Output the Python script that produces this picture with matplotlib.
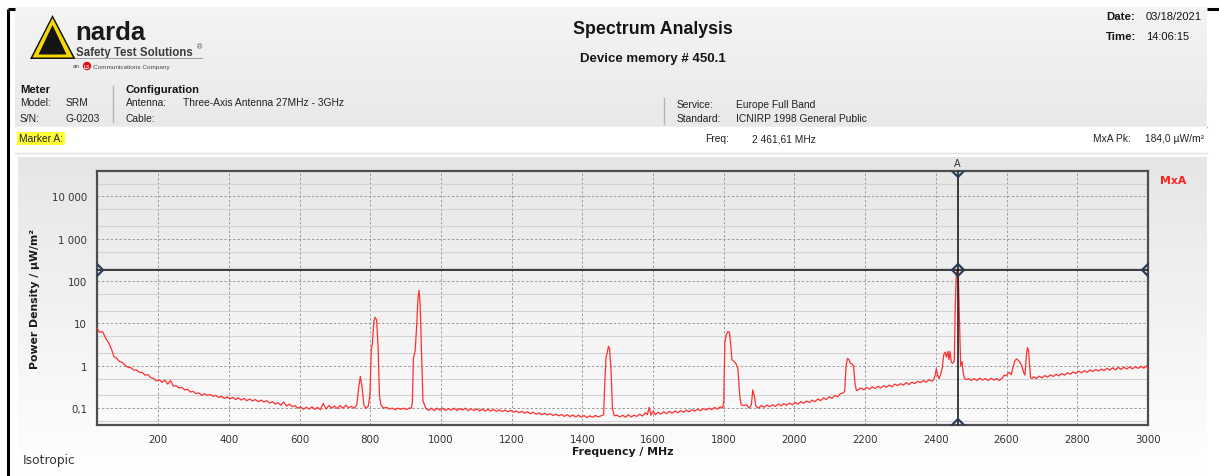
import numpy as np
import matplotlib
matplotlib.use("Agg")
import matplotlib.pyplot as plt
from matplotlib.patches import Polygon, Rectangle, Circle
from matplotlib.colors import LinearSegmentedColormap
from matplotlib.ticker import FixedLocator, FuncFormatter, LogLocator, NullFormatter

# ---------------- data ----------------
# MxA trace, split in bands: frequency (MHz) and power density (µW/m²)
f_low = [27, 35, 43, 51, 59, 67, 75, 83, 91, 99,
         107, 115, 123, 131, 139, 147, 155, 163, 171, 179,
         187, 195, 203, 211, 219, 227, 235, 243, 251, 259,
         267, 275, 283, 291, 299, 307, 315, 323, 331, 339,
         347, 355, 363, 371, 379, 387, 395, 403, 411, 419,
         427, 435, 443, 451, 459, 467, 475, 483, 491, 499,
         507, 515, 523, 531, 539, 547, 555, 563, 571, 579,
         587, 595, 603, 611, 619, 627, 635, 643, 651, 659,
         667, 675, 683, 691, 699, 707, 715, 723, 731, 739]
p_low = [7.6, 6.2, 6.4, 4.6, 3.6, 2.6, 1.65, 1.5, 1.25, 1.2,
         1.02, 0.92, 0.9, 0.8, 0.8, 0.7, 0.7, 0.6, 0.62, 0.53,
         0.5, 0.44, 0.47, 0.41, 0.46, 0.37, 0.45, 0.33, 0.34, 0.3,
         0.31, 0.27, 0.28, 0.24, 0.25, 0.22, 0.23, 0.2, 0.22, 0.2,
         0.21, 0.19, 0.2, 0.18, 0.19, 0.17, 0.185, 0.165, 0.18, 0.16,
         0.175, 0.155, 0.17, 0.15, 0.165, 0.148, 0.16, 0.142, 0.155, 0.14,
         0.15, 0.132, 0.142, 0.125, 0.135, 0.118, 0.14, 0.112, 0.125, 0.108,
         0.115, 0.1, 0.108, 0.094, 0.105, 0.095, 0.108, 0.094, 0.104, 0.092,
         0.13, 0.095, 0.115, 0.1, 0.112, 0.098, 0.115, 0.1, 0.118, 0.102]

f_gsm = [747, 755, 762, 767, 772, 777, 782, 788, 794, 799,
         803, 806, 810, 814, 818, 822, 826, 830, 838, 846,
         854, 862, 870, 878, 886, 894, 902, 910, 916, 919,
         922, 927, 931, 935, 938, 941, 945, 949, 957, 965]
p_gsm = [0.11, 0.1, 0.12, 0.3, 0.56, 0.3, 0.12, 0.1, 0.11, 0.2,
         2.5, 3.3, 11.0, 14.0, 12.0, 3.0, 0.2, 0.12, 0.1, 0.105,
         0.095, 0.1, 0.092, 0.1, 0.094, 0.1, 0.093, 0.1, 0.1, 0.13,
         1.5, 2.3, 8.0, 40.0, 60.0, 30.0, 2.0, 0.15, 0.1, 0.088]

f_mid = [973, 981, 989, 997, 1005, 1013, 1021, 1029, 1037, 1045,
         1053, 1061, 1069, 1077, 1085, 1093, 1101, 1109, 1117, 1125,
         1133, 1141, 1149, 1157, 1165, 1173, 1181, 1189, 1197, 1205,
         1213, 1221, 1229, 1237, 1245, 1253, 1261, 1269, 1277, 1285,
         1293, 1301, 1309, 1317, 1325, 1333, 1341, 1349, 1357, 1365,
         1373, 1381, 1389, 1397, 1405, 1413, 1421, 1429, 1437, 1445, 1453, 1460]
p_mid = [0.1, 0.088, 0.1, 0.09, 0.1, 0.088, 0.098, 0.09, 0.1, 0.088,
         0.098, 0.09, 0.1, 0.087, 0.097, 0.088, 0.096, 0.086, 0.095, 0.085,
         0.094, 0.085, 0.093, 0.084, 0.092, 0.083, 0.09, 0.082, 0.089, 0.08,
         0.086, 0.078, 0.084, 0.076, 0.082, 0.074, 0.08, 0.072, 0.078, 0.07,
         0.076, 0.069, 0.074, 0.067, 0.072, 0.066, 0.071, 0.064, 0.07, 0.063,
         0.069, 0.062, 0.068, 0.061, 0.067, 0.06, 0.066, 0.061, 0.067, 0.062, 0.066, 0.07]

f_b3 = [1464, 1467, 1470, 1474, 1477, 1481, 1485, 1490, 1498, 1506,
        1514, 1522, 1530, 1538, 1546, 1554, 1562, 1570, 1578, 1584,
        1589, 1594, 1600, 1606, 1614, 1622, 1630, 1638, 1646, 1654,
        1662, 1670, 1678, 1686, 1694, 1702, 1710, 1718, 1726, 1734,
        1742, 1750, 1758, 1766, 1774, 1782, 1790, 1797]
p_b3 = [0.5, 1.6, 2.0, 2.9, 2.5, 0.8, 0.1, 0.066, 0.068, 0.062,
        0.068, 0.061, 0.07, 0.062, 0.068, 0.064, 0.072, 0.065, 0.078, 0.07,
        0.105, 0.068, 0.085, 0.07, 0.08, 0.072, 0.082, 0.074, 0.084, 0.076,
        0.086, 0.078, 0.088, 0.08, 0.09, 0.082, 0.092, 0.085, 0.095, 0.087,
        0.098, 0.09, 0.1, 0.092, 0.104, 0.095, 0.108, 0.1]

f_dcs = [1800, 1803, 1807, 1812, 1816, 1820, 1823, 1828, 1835, 1840,
         1845, 1849, 1856, 1864, 1872, 1878, 1882, 1886, 1891, 1898]
p_dcs = [0.15, 3.5, 5.5, 6.4, 6.2, 3.0, 1.4, 1.3, 1.1, 0.85,
         0.2, 0.12, 0.115, 0.12, 0.1, 0.12, 0.27, 0.2, 0.11, 0.1]

f_umts = [1906, 1914, 1922, 1930, 1938, 1946, 1954, 1962, 1970, 1978,
          1986, 1994, 2002, 2010, 2018, 2026, 2034, 2042, 2050, 2058,
          2066, 2074, 2082, 2090, 2098, 2106, 2114, 2122, 2130, 2138,
          2142, 2146, 2150, 2154, 2158, 2163, 2167, 2171, 2175]
p_umts = [0.115, 0.105, 0.118, 0.108, 0.12, 0.11, 0.125, 0.113, 0.128, 0.117,
          0.132, 0.12, 0.137, 0.125, 0.142, 0.13, 0.148, 0.136, 0.155, 0.142,
          0.165, 0.15, 0.175, 0.16, 0.185, 0.17, 0.2, 0.185, 0.22, 0.23,
          0.25, 1.0, 1.5, 1.4, 1.15, 1.1, 1.0, 0.4, 0.26]

f_wifi = [2180, 2188, 2196, 2204, 2212, 2220, 2228, 2236, 2244, 2252,
          2260, 2268, 2276, 2284, 2292, 2300, 2308, 2316, 2324, 2332,
          2340, 2348, 2356, 2364, 2372, 2380, 2388, 2394, 2398, 2401,
          2405, 2409, 2414, 2418, 2422, 2426, 2430, 2434, 2437, 2440,
          2444, 2448, 2452, 2455, 2458, 2461.6, 2464, 2467, 2470, 2474,
          2477, 2481, 2486]
p_wifi = [0.27, 0.3, 0.27, 0.31, 0.28, 0.32, 0.29, 0.33, 0.3, 0.34,
          0.31, 0.35, 0.32, 0.37, 0.34, 0.38, 0.35, 0.4, 0.36, 0.41,
          0.38, 0.43, 0.4, 0.45, 0.41, 0.47, 0.43, 0.48, 0.6, 0.85,
          0.6, 0.5, 0.65, 0.9, 1.8, 2.1, 1.6, 2.2, 1.4, 2.2,
          1.2, 1.15, 1.3, 30.0, 160.0, 184.0, 90.0, 10.0, 1.0, 1.25,
          0.7, 0.5, 0.47]

f_lte = [2492, 2500, 2508, 2516, 2524, 2532, 2540, 2548, 2556, 2564,
         2572, 2580, 2588, 2593, 2598, 2603, 2608, 2613, 2618, 2623,
         2628, 2633, 2638, 2643, 2648, 2652, 2656, 2659, 2662, 2665,
         2668, 2672]
p_lte = [0.5, 0.45, 0.5, 0.45, 0.51, 0.46, 0.5, 0.45, 0.51, 0.46,
         0.5, 0.45, 0.52, 0.6, 0.58, 0.65, 0.7, 0.62, 0.9, 1.3,
         1.45, 1.35, 1.2, 1.0, 0.7, 0.6, 1.8, 2.7, 2.3, 1.0,
         0.52, 0.5]

f_high = [2676, 2684, 2692, 2700, 2708, 2716, 2724, 2732, 2740, 2748,
          2756, 2764, 2772, 2780, 2788, 2796, 2804, 2812, 2820, 2828,
          2836, 2844, 2852, 2860, 2868, 2876, 2884, 2892, 2900, 2908,
          2916, 2924, 2932, 2940, 2948, 2956, 2964, 2972, 2980, 2988,
          2996, 3000]
p_high = [0.55, 0.5, 0.57, 0.52, 0.59, 0.54, 0.61, 0.56, 0.63, 0.58,
          0.66, 0.6, 0.69, 0.63, 0.72, 0.66, 0.75, 0.68, 0.77, 0.7,
          0.8, 0.73, 0.82, 0.75, 0.84, 0.77, 0.87, 0.79, 0.9, 0.8,
          0.92, 0.82, 0.93, 0.84, 0.94, 0.85, 0.95, 0.87, 0.97, 0.88,
          1.0, 0.8]

marker_freq = 2461.61      # MHz
marker_value = 184.0       # µW/m²
freq_range = (27, 3000)
pd_range = (0.04, 40000)
x_ticks = [200, 400, 600, 800, 1000, 1200, 1400, 1600, 1800, 2000,
           2200, 2400, 2600, 2800, 3000]
y_ticks = [0.1, 1, 10, 100, 1000, 10000]

meter_info = [("Model:", "SRM"), ("S/N:", "G-0203")]
config_info = [("Antenna:", "Three-Axis Antenna 27MHz - 3GHz"), ("Cable:", "")]
service_info = [("Service:", "Europe Full Band"), ("Standard:", "ICNIRP 1998 General Public")]
date_info = [("Date:", "03/18/2021"), ("Time:", "14:06:15")]

freq = np.concatenate([f_low, f_gsm, f_mid, f_b3, f_dcs, f_umts, f_wifi, f_lte, f_high])
power = np.concatenate([p_low, p_gsm, p_mid, p_b3, p_dcs, p_umts, p_wifi, p_lte, p_high])

# ---------------- figure ----------------
W, H = 1219, 477
fig = plt.figure(figsize=(W / 100, H / 100), dpi=100)
fig.patch.set_facecolor("white")

bg = fig.add_axes([0, 0, 1, 1], zorder=0)
bg.axis("off")
SANS = "Liberation Sans"
VER = "DejaVu Sans"


def vgrad(x0, x1, y0, y1, c_top, c_bot):
    cmap = LinearSegmentedColormap.from_list("g", [c_top, c_bot])
    arr = np.linspace(0, 1, 256).reshape(-1, 1)
    bg.imshow(arr, cmap=cmap, extent=(x0, x1, y1, y0), aspect="auto",
              origin="upper", interpolation="bilinear", zorder=0)


# header background
vgrad(15, 1207, 8, 127, "#f4f4f4", "#e9e9e9")
bg.plot([15, 1207], [127.5, 127.5], color="#a9a9a9", lw=1.0, zorder=1)
# marker bar
bg.add_patch(Rectangle((15, 128), 1192, 26, facecolor="white", edgecolor="none", zorder=1))
bg.plot([15, 1207], [154, 154], color="#e2e2e2", lw=1.0, zorder=1)
# chart panel
vgrad(18, 1207, 158, 477, "#e6e6e6", "#ffffff")

# page frame marks
bg.plot([8, 8], [10, 477], color="black", lw=2.2, zorder=3, solid_capstyle="butt")
bg.plot([8, 15], [10, 10], color="black", lw=2.2, zorder=3, solid_capstyle="butt")
bg.plot([1207, 1219], [10, 10], color="black", lw=2.2, zorder=3, solid_capstyle="butt")

# logo
bg.add_patch(Polygon([(52.5, 16), (30, 60), (75.5, 60)], closed=True, facecolor="#111111", zorder=2))
bg.add_patch(Polygon([(52.5, 19), (32.5, 58.5), (73, 58.5)], closed=True, facecolor="#f5d800", zorder=3))
bg.add_patch(Polygon([(52.5, 26), (38.5, 55.5), (66.5, 55.5)], closed=True, facecolor="#151515", zorder=4))
bg.text(75, 40.5, "narda", fontfamily=SANS, fontweight="bold", fontsize=18.5,
        color="#1a1a1a", ha="left", va="baseline", zorder=5)
bg.text(75.5, 56, "Safety Test Solutions", fontfamily=SANS, fontweight="bold", fontsize=8.3,
        color="#3c3c3c", ha="left", va="baseline", zorder=5)
bg.text(197, 49.5, "®", fontfamily=SANS, fontsize=5, color="#3c3c3c", ha="left", va="baseline", zorder=5)
bg.plot([75, 202], [59, 59], color="#9a9a9a", lw=0.7, zorder=5)
bg.text(73, 67, "an", fontfamily=SANS, fontsize=4.5, color="#444444", ha="left", va="center", zorder=5)
bg.add_patch(Circle((87, 67), 4.2, facecolor="#e01010", edgecolor="none", zorder=5))
bg.text(87, 67.2, "L3", fontfamily=SANS, fontweight="bold", fontsize=3.6, color="white",
        ha="center", va="center", zorder=6)
bg.text(93, 67, "Communications Company", fontfamily=SANS, fontsize=4.6, color="#444444",
        ha="left", va="center", zorder=5)

# titles
bg.text(653, 30, "Spectrum Analysis", fontfamily=SANS, fontweight="bold", fontsize=12.8,
        color="#151515", ha="center", va="center", zorder=5)
bg.text(653, 59, "Device memory # 450.1", fontfamily=SANS, fontweight="bold", fontsize=9.5,
        color="#151515", ha="center", va="center", zorder=5)
for (lab, val), yy in zip(date_info, [17, 37]):
    bg.text(1106, yy, lab, fontfamily=SANS, fontweight="bold", fontsize=8.2, color="#151515",
            ha="left", va="center", zorder=5)
    bg.text(1146, yy, val, fontfamily=SANS, fontsize=8.0, color="#151515",
            ha="left", va="center", zorder=5)

# meter / configuration / service
bg.text(20, 90, "Meter", fontfamily=SANS, fontweight="bold", fontsize=8.1, color="#151515",
        ha="left", va="center", zorder=5)
bg.text(126, 90, "Configuration", fontfamily=SANS, fontweight="bold", fontsize=8.1, color="#151515",
        ha="left", va="center", zorder=5)
for (lab, val), yy in zip(meter_info, [103.5, 118.5]):
    bg.text(20, yy, lab, fontfamily=SANS, fontsize=7.4, color="#222222", ha="left", va="center", zorder=5)
    bg.text(66, yy, val, fontfamily=SANS, fontsize=7.4, color="#222222", ha="left", va="center", zorder=5)
for (lab, val), yy in zip(config_info, [103.5, 118.5]):
    bg.text(126, yy, lab, fontfamily=SANS, fontsize=7.4, color="#222222", ha="left", va="center", zorder=5)
    bg.text(183, yy, val, fontfamily=SANS, fontsize=7.4, color="#222222", ha="left", va="center", zorder=5)
for (lab, val), yy in zip(service_info, [104.5, 119.5]):
    bg.text(677, yy, lab, fontfamily=SANS, fontsize=7.4, color="#222222", ha="left", va="center", zorder=5)
    bg.text(736, yy, val, fontfamily=SANS, fontsize=7.4, color="#222222", ha="left", va="center", zorder=5)
bg.plot([113, 113], [87, 123], color="#b4b4b4", lw=1.0, zorder=5)
bg.plot([664, 664], [99, 125], color="#b4b4b4", lw=1.0, zorder=5)

# marker bar text
freq_txt = f"{marker_freq:,.2f}".replace(",", " ").replace(".", ",") + " MHz"
val_txt = f"{marker_value:.1f}".replace(".", ",") + " µW/m²"
bg.text(19, 139.5, "Marker A:", fontfamily=SANS, fontsize=7.4, color="#222222", ha="left", va="center",
        zorder=5, bbox=dict(boxstyle="square,pad=0.15", facecolor="#ffff33", edgecolor="none"))
bg.text(705, 139.5, "Freq:", fontfamily=SANS, fontsize=7.4, color="#222222", ha="left", va="center", zorder=5)
bg.text(752, 139.5, freq_txt, fontfamily=SANS, fontsize=7.4, color="#222222", ha="left", va="center", zorder=5)
bg.text(1093, 139.5, "MxA Pk:", fontfamily=SANS, fontsize=7.4, color="#222222", ha="left", va="center", zorder=5)
bg.text(1204, 139.5, val_txt, fontfamily=SANS, fontsize=7.4, color="#222222", ha="right", va="center", zorder=5)

# chart labels outside axes
bg.text(35, 299, "Power Density / µW/m²", fontfamily=VER, fontweight="bold", fontsize=7.8,
        color="#1a1a1a", rotation=90, ha="center", va="center", zorder=5)
bg.text(622.5, 452, "Frequency / MHz", fontfamily=VER, fontweight="bold", fontsize=7.8,
        color="#1a1a1a", ha="center", va="center", zorder=5)
bg.text(23, 461, "Isotropic", fontfamily=VER, fontsize=8.8, color="#333333",
        ha="left", va="center", zorder=5)
bg.text(1160, 181, "MxA", fontfamily=VER, fontweight="bold", fontsize=7.8, color="#ff2020",
        ha="left", va="center", zorder=5)

bg.set_xlim(0, W)
bg.set_ylim(H, 0)

# ---------------- main chart ----------------
ax = fig.add_axes([97 / W, 1 - 426 / H, (1148 - 97) / W, (426 - 172) / H], zorder=2)
ax.set_facecolor("none")
ax.set_yscale("log")
ax.set_xlim(*freq_range)
ax.set_ylim(*pd_range)

ax.xaxis.set_major_locator(FixedLocator(x_ticks))
ax.yaxis.set_major_locator(FixedLocator(y_ticks))
ax.yaxis.set_minor_locator(LogLocator(base=10, subs=(2.0, 5.0)))
ax.yaxis.set_minor_formatter(NullFormatter())


def y_fmt(v, _pos):
    if v >= 1:
        return f"{int(round(v)):,}".replace(",", " ")
    return f"{v:g}".replace(".", ",")


ax.yaxis.set_major_formatter(FuncFormatter(y_fmt))
ax.xaxis.set_major_formatter(FuncFormatter(lambda v, _p: f"{int(v)}"))
ax.tick_params(which="both", length=0, labelsize=7.4, labelcolor="#333333")
ax.tick_params(axis="x", pad=6.5)
ax.tick_params(axis="y", pad=7.2)
for lab in ax.get_xticklabels() + ax.get_yticklabels():
    lab.set_fontfamily(VER)

ax.grid(which="major", axis="both", color="#9c9c9c", lw=0.7, ls=(0, (2.5, 2)))
ax.grid(which="minor", axis="y", color="#d3d3d3", lw=0.8, ls="-")
ax.set_axisbelow(True)
for sp in ax.spines.values():
    sp.set_color("#4e4e4e")
    sp.set_linewidth(1.6)

# trace
ax.plot(freq, power, color="#ff3030", lw=0.9, zorder=3)

# marker cross
ax.axhline(marker_value, color="#1e1e1e", lw=1.2, zorder=4)
ax.axvline(marker_freq, color="#1e1e1e", lw=1.2, zorder=4)
ax.plot([freq_range[0], marker_freq, freq_range[1]], [marker_value] * 3, ls="none", marker="D",
        ms=6.5, mfc="none", mec="#2b3d5c", mew=1.6, zorder=5, clip_on=True)
ax.plot([marker_freq, marker_freq], list(pd_range), ls="none", marker="D",
        ms=6.5, mfc="none", mec="#2b3d5c", mew=1.6, zorder=5, clip_on=True)
ax.annotate("A", xy=(marker_freq, 1), xycoords=("data", "axes fraction"), xytext=(0, 2.5),
            textcoords="offset points", ha="center", va="bottom", fontsize=7, color="#333333",
            fontfamily=VER)

fig.savefig("out.png", dpi=100)
